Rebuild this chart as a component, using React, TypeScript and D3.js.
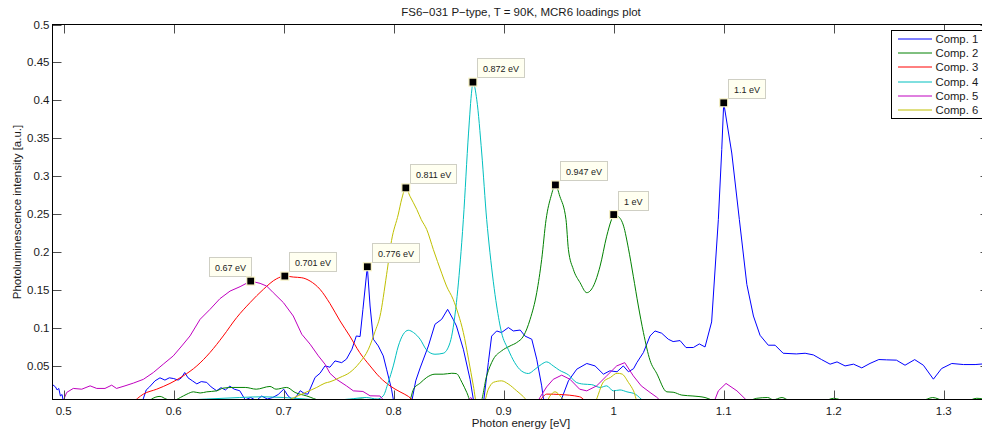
import React from 'react';
import * as d3 from 'd3';

type Pt = [number, number];

const title = 'FS6\u2212031 P\u2212type, T = 90K, MCR6 loadings plot';
const xLabel = 'Photon energy [eV]';
const yLabel = 'Photoluminescence intensity [a.u.]';

const xTicks = [0.5, 0.6, 0.7, 0.8, 0.9, 1.0, 1.1, 1.2, 1.3];
const xTickLabels = ['0.5', '0.6', '0.7', '0.8', '0.9', '1', '1.1', '1.2', '1.3'];
const yTicks = [0.05, 0.1, 0.15, 0.2, 0.25, 0.3, 0.35, 0.4, 0.45, 0.5];
const yTickLabels = ['0.05', '0.1', '0.15', '0.2', '0.25', '0.3', '0.35', '0.4', '0.45', '0.5'];

const xDomain: Pt = [0.4898, 1.3416];
const yDomain: Pt = [0.0054, 0.5];

const seriesNames = ['Comp. 1', 'Comp. 2', 'Comp. 3', 'Comp. 4', 'Comp. 5', 'Comp. 6'];
const seriesColors = ['#0000ff', '#008000', '#ff0000', '#00bfbf', '#bf00bf', '#bfbf00'];

const comp1: Pt[] = [
  [0.489, 0.026], [0.4925, 0.022], [0.494, 0.018], [0.4955, 0.02], [0.497, 0.01], [0.4985, 0.012], [0.5, 0.0], [0.51, 0],
  [0.57, 0], [0.572, 0.005], [0.575, 0.018], [0.578, 0.022], [0.583, 0.03], [0.5875, 0.034], [0.592, 0.031], [0.596, 0.034],
  [0.6, 0.033], [0.604, 0.031], [0.607, 0.034], [0.61, 0.041], [0.613, 0.034], [0.617, 0.03], [0.621, 0.026], [0.625, 0.029],
  [0.63, 0.028], [0.634, 0.022], [0.639, 0.017], [0.643, 0.021], [0.647, 0.018], [0.651, 0.023], [0.655, 0.019], [0.66, 0.017],
  [0.665, 0.005], [0.67, 0.008], [0.675, 0.004], [0.68, 0.01], [0.685, 0.006], [0.69, 0.008], [0.695, 0.012], [0.7, 0.019],
  [0.704, 0.01], [0.709, 0.004], [0.715, 0.017], [0.719, 0.013], [0.722, 0.0125], [0.7285, 0.0345], [0.733, 0.04], [0.7375, 0.0497],
  [0.742, 0.048], [0.7466, 0.0563], [0.7527, 0.054], [0.757, 0.0586], [0.762, 0.0717], [0.766, 0.0892], [0.7694, 0.0884],
  [0.772, 0.1243], [0.776, 0.1805], [0.7785, 0.1287], [0.7815, 0.0849], [0.786, 0.076], [0.7905, 0.0629], [0.7935, 0.0454],
  [0.798, 0.019], [0.8003, 0.0], [0.816, 0.0], [0.82, 0.03], [0.824, 0.047], [0.8315, 0.076], [0.8375, 0.1046], [0.8436, 0.1112],
  [0.849, 0.1243], [0.854, 0.1112], [0.857, 0.1024], [0.8633, 0.0717], [0.8694, 0.032], [0.873, 0.0], [0.8815, 0.0],
  [0.886, 0.054], [0.889, 0.089], [0.8936, 0.0958], [0.898, 0.0937], [0.9042, 0.1003], [0.9087, 0.0958], [0.915, 0.097],
  [0.9194, 0.089], [0.9255, 0.0849], [0.93, 0.0586], [0.9345, 0.0234], [0.9367, 0.0], [0.951, 0.0], [0.9588, 0.03],
  [0.9664, 0.0454], [0.9755, 0.0529], [0.983, 0.0497], [0.9906, 0.0388], [0.9965, 0.0432], [1.003, 0.042], [1.0087, 0.0497],
  [1.0133, 0.042], [1.018, 0.046], [1.021, 0.054], [1.027, 0.0674], [1.033, 0.0892], [1.0375, 0.0958], [1.0436, 0.0928],
  [1.0496, 0.0849], [1.054, 0.0818], [1.0603, 0.0831], [1.0657, 0.0739], [1.0724, 0.074], [1.0778, 0.0787], [1.083, 0.0747],
  [1.089, 0.1077], [1.0951, 0.2428], [1.0982, 0.335], [1.1, 0.3967], [1.1073, 0.3305], [1.1142, 0.2428], [1.121, 0.1572],
  [1.127, 0.1155], [1.133, 0.0901], [1.1405, 0.077], [1.1467, 0.077], [1.154, 0.0664], [1.166, 0.0655], [1.174, 0.0664],
  [1.1815, 0.0642], [1.189, 0.058], [1.1967, 0.052], [1.203, 0.055], [1.2103, 0.0497], [1.218, 0.052], [1.2255, 0.0471],
  [1.233, 0.053], [1.241, 0.0581], [1.248, 0.0577], [1.257, 0.0573], [1.2648, 0.0506], [1.2736, 0.058], [1.2815, 0.0506],
  [1.2906, 0.0322], [1.298, 0.0462], [1.3073, 0.0529], [1.318, 0.0515], [1.3285, 0.0515], [1.3416, 0.053],
];

const comp2: Pt[] = [
  [0.57, 0], [0.5754, 0], [0.58, 0.006], [0.5876, 0.0095], [0.593, 0.006], [0.5996, 0.004], [0.606, 0.008], [0.612, 0.0125],
  [0.618, 0.0155], [0.624, 0.014], [0.63, 0.0155], [0.639, 0.0168], [0.645, 0.0204], [0.654, 0.0213], [0.665, 0.0213],
  [0.675, 0.019], [0.6875, 0.0226], [0.693, 0.019], [0.7027, 0.0213], [0.7103, 0.0147], [0.721, 0.01], [0.733, 0.004],
  [0.745, 0.002], [0.76, 0.004], [0.77, 0.006], [0.78, 0.003], [0.8, 0.0], [0.8133, 0.0], [0.818, 0.019], [0.824, 0.027],
  [0.83, 0.0345], [0.8375, 0.0388], [0.845, 0.0388], [0.8527, 0.04], [0.857, 0.0395], [0.862, 0.028], [0.8664, 0.0147],
  [0.871, 0], [0.8785, 0], [0.8845, 0.0366], [0.8906, 0.0586], [0.898, 0.0695], [0.9057, 0.076], [0.9118, 0.0805],
  [0.918, 0.0892], [0.924, 0.1112], [0.93, 0.1463], [0.9345, 0.1901], [0.9385, 0.2428], [0.943, 0.2734], [0.947, 0.2884],
  [0.951, 0.2734], [0.9566, 0.2428], [0.9588, 0.2033], [0.9633, 0.177], [0.9694, 0.1595], [0.9755, 0.1463], [0.9815, 0.155],
  [0.9876, 0.1813], [0.9936, 0.2208], [0.998, 0.2428], [1.0, 0.2493], [1.004, 0.247], [1.009, 0.234], [1.0133, 0.205],
  [1.0178, 0.168], [1.0224, 0.1287], [1.027, 0.0937], [1.033, 0.057], [1.039, 0.04], [1.0483, 0.0155], [1.054, 0.015],
  [1.0619, 0.0112], [1.072, 0.01], [1.083, 0.008], [1.09, 0.004], [1.095, 0.0], [1.12, 0.002], [1.13, 0.007], [1.14, 0.008],
  [1.145, 0.005], [1.153, 0.008], [1.16, 0.004], [1.19, 0.003], [1.2, 0.007], [1.21, 0.004], [1.28, 0.004], [1.29, 0.008],
  [1.3, 0.004], [1.32, 0.003], [1.33, 0.007], [1.3416, 0.004],
];

const comp3: Pt[] = [
  [0.5618, 0], [0.5724, 0.0125], [0.5845, 0.019], [0.5966, 0.0266], [0.6087, 0.0366], [0.621, 0.0497], [0.633, 0.0674],
  [0.645, 0.0892], [0.6572, 0.1134], [0.6694, 0.1332], [0.6815, 0.1507], [0.6936, 0.1647], [0.701, 0.1682], [0.7087, 0.1669],
  [0.7164, 0.166], [0.724, 0.1616], [0.733, 0.1507], [0.742, 0.132], [0.7512, 0.109], [0.76, 0.0892], [0.769, 0.0674],
  [0.7785, 0.0497], [0.7875, 0.0345], [0.7966, 0.0234], [0.8057, 0.0155], [0.8133, 0.0095], [0.818, 0.004], [0.825, 0],
  [0.93, 0], [0.935, 0.008], [0.939, 0.0125], [0.951, 0.012], [0.969, 0.009], [0.978, 0.0], [1.3416, 0],
];

const comp4: Pt[] = [
  [0.56, 0], [0.6, 0.004], [0.63, 0.006], [0.66, 0.008], [0.68, 0.009], [0.7, 0.008], [0.72, 0.006], [0.74, 0.004],
  [0.76, 0.006], [0.775, 0.008], [0.785, 0.006], [0.7905, 0.0103], [0.795, 0.028], [0.7996, 0.0497], [0.8042, 0.076],
  [0.8087, 0.0915], [0.8133, 0.0967], [0.818, 0.0937], [0.824, 0.0849], [0.83, 0.0705], [0.8375, 0.0651], [0.845, 0.0664],
  [0.8512, 0.0805], [0.857, 0.1332], [0.8618, 0.2121], [0.8633, 0.2428], [0.868, 0.3568], [0.871, 0.4138], [0.872, 0.424],
  [0.8755, 0.4007], [0.88, 0.3305], [0.8845, 0.2428], [0.8875, 0.1989], [0.8936, 0.1287], [0.898, 0.0937], [0.904, 0.0717],
  [0.91, 0.054], [0.916, 0.0432], [0.9224, 0.0397], [0.9285, 0.0454], [0.9345, 0.052], [0.939, 0.055], [0.945, 0.0497],
  [0.9506, 0.044], [0.9588, 0.0379], [0.966, 0.028], [0.9724, 0.0257], [0.98, 0.025], [0.9876, 0.0213], [0.9936, 0.0234],
  [0.9996, 0.0168], [1.0057, 0.018], [1.012, 0.0155], [1.0196, 0.0125], [1.027, 0.004], [1.04, 0], [1.3416, 0],
];

const comp5: Pt[] = [
  [0.4985, 0], [0.5027, 0.0147], [0.5087, 0.02], [0.5164, 0.019], [0.524, 0.0234], [0.53, 0.02], [0.5375, 0.02],
  [0.5436, 0.0243], [0.548, 0.02], [0.5557, 0.0234], [0.5633, 0.027], [0.5724, 0.032], [0.5815, 0.041], [0.5905, 0.052],
  [0.5996, 0.0629], [0.6073, 0.076], [0.6148, 0.0892], [0.624, 0.1112], [0.633, 0.1243], [0.642, 0.1384], [0.6512, 0.1484],
  [0.6603, 0.1542], [0.67, 0.1616], [0.6785, 0.1586], [0.6845, 0.155], [0.6905, 0.1463], [0.6997, 0.1332], [0.7087, 0.1155],
  [0.7164, 0.0915], [0.724, 0.0783], [0.7315, 0.0629], [0.7375, 0.052], [0.742, 0.04], [0.748, 0.032], [0.757, 0.0234],
  [0.7633, 0.0168], [0.772, 0.016], [0.7785, 0.0103], [0.7875, 0.01], [0.7935, 0.0], [0.865, 0], [0.87, 0.008], [0.875, 0.0],
  [0.93, 0], [0.9329, 0.008], [0.939, 0.022], [0.945, 0.032], [0.9527, 0.0375], [0.9603, 0.032], [0.969, 0.019],
  [0.9755, 0.0168], [0.9845, 0.0234], [0.9936, 0.0366], [1.0027, 0.0497], [1.01, 0.054], [1.0178, 0.0366], [1.025, 0.0234],
  [1.033, 0.0147], [1.039, 0.0085], [1.045, 0], [1.0906, 0], [1.0951, 0.0168], [1.1021, 0.0266], [1.112, 0.0168],
  [1.1239, 0], [1.3416, 0],
];

const comp6: Pt[] = [
  [0.56, 0], [0.6, 0.003], [0.64, 0.005], [0.68, 0.004], [0.7, 0.003], [0.7087, 0.0075], [0.721, 0.0155], [0.73, 0.0213],
  [0.7375, 0.027], [0.742, 0.0287], [0.7512, 0.0345], [0.76, 0.041], [0.769, 0.054], [0.777, 0.0717], [0.783, 0.095],
  [0.7875, 0.115], [0.7935, 0.17], [0.798, 0.215], [0.8042, 0.25], [0.8073, 0.27], [0.811, 0.2845], [0.8148, 0.2734],
  [0.821, 0.256], [0.825, 0.2428], [0.83, 0.2296], [0.836, 0.2033], [0.8436, 0.172], [0.848, 0.155], [0.854, 0.1375],
  [0.8587, 0.118], [0.8633, 0.0937], [0.868, 0.0586], [0.8724, 0.0234], [0.8755, 0], [0.8815, 0], [0.886, 0.019],
  [0.8906, 0.028], [0.898, 0.03], [0.904, 0.026], [0.9118, 0.0168], [0.918, 0.009], [0.924, 0], [0.938, 0], [0.942, 0.01],
  [0.9466, 0.0155], [0.954, 0.006], [0.96, 0], [0.9815, 0], [0.9906, 0.0287], [0.997, 0.0345], [1.003, 0.04],
  [1.0075, 0.039], [1.0133, 0.028], [1.018, 0.0168], [1.0224, 0], [1.3416, 0],
];

const allSeries = [comp1, comp2, comp3, comp4, comp5, comp6];
const seriesJagged = [true, false, false, false, true, false];

// Data tips (peak markers)
const tipEnergies = [0.67, 0.701, 0.776, 0.811, 0.872, 0.947, 1.0, 1.1];
const tipValues = [0.1616, 0.1682, 0.1805, 0.2845, 0.424, 0.2884, 0.2493, 0.3967];
const tipLabels = ['0.67 eV', '0.701 eV', '0.776 eV', '0.811 eV', '0.872 eV', '0.947 eV', '1 eV', '1.1 eV'];
const tipLeftSide = [true, false, false, false, false, false, false, false];

const FONT = "'Liberation Sans', Arial, Helvetica, sans-serif";

function measure(text: string, size: number): number {
  if (typeof document === 'undefined') return text.length * size * 0.55;
  const c = document.createElement('canvas').getContext('2d');
  if (!c) return text.length * size * 0.55;
  c.font = `${size}px 'Liberation Sans', Arial`;
  return c.measureText(text).width;
}

export default function App() {
  const W = 982;
  const H = 434;
  const L = 52.5, R = 989.5, T = 24.5, B = 399.5;

  const x = d3.scaleLinear().domain(xDomain).range([L, R]);
  const y = d3.scaleLinear().domain(yDomain).range([B, T]);

  const smooth = d3
    .line<Pt>()
    .x((d) => x(d[0]))
    .y((d) => y(d[1]))
    .curve(d3.curveMonotoneX);
  const jagged = d3
    .line<Pt>()
    .x((d) => x(d[0]))
    .y((d) => y(d[1]))
    .curve(d3.curveLinear);

  const tickLen = 9;
  const tickColor = '#4d4d4d';

  const legendX = 891.5, legendY = 30.5, legendW = 110, legendH = 88;
  const legendRow0 = 39, legendRowStep = 14.2;

  return (
    <div style={{ position: 'fixed', left: 0, top: 0, width: W, height: H, overflow: 'hidden', background: '#fff' }}>
      <svg width={W} height={H} style={{ display: 'block', fontFamily: FONT }}>
        <defs>
          <clipPath id="plotclip">
            <rect x={L} y={T} width={R - L} height={B - T} />
          </clipPath>
        </defs>
        <rect x={0} y={0} width={W} height={H} fill="#fff" />

        {/* series */}
        <g clipPath="url(#plotclip)">
          {allSeries.map((s, i) => (
            <path
              key={i}
              d={(seriesJagged[i] ? jagged(s) : smooth(s)) || ''}
              fill="none"
              stroke={seriesColors[i]}
              strokeWidth={1}
              strokeLinejoin="round"
            />
          ))}
        </g>

        {/* ticks */}
        <g stroke={tickColor} strokeWidth={1}>
          {xTicks.map((t, i) => {
            const px = Math.round(x(t)) + 0.5;
            return (
              <g key={'xt' + i}>
                <line x1={px} x2={px} y1={B} y2={B - tickLen} />
                <line x1={px} x2={px} y1={T} y2={T + tickLen} />
              </g>
            );
          })}
          {yTicks.map((t, i) => {
            const py = Math.round(y(t)) + 0.5;
            return (
              <g key={'yt' + i}>
                <line x1={L} x2={L + tickLen} y1={py} y2={py} />
                <line x1={R} x2={R - tickLen} y1={py} y2={py} />
              </g>
            );
          })}
        </g>

        {/* axes box */}
        <rect x={L} y={T} width={R - L} height={B - T} fill="none" stroke="#000" strokeWidth={1} />

        {/* tick labels */}
        <g fontSize={11.5} fill="#1a1a1a">
          {xTicks.map((t, i) => (
            <text key={'xl' + i} x={x(t)} y={414.5} textAnchor="middle">
              {xTickLabels[i]}
            </text>
          ))}
          {yTicks.map((t, i) => (
            <text key={'yl' + i} x={49.5} y={y(t) + 4} textAnchor="end">
              {yTickLabels[i]}
            </text>
          ))}
        </g>

        {/* title and axis labels */}
        <text x={(L + R) / 2} y={16} textAnchor="middle" fontSize={11.5} fill="#1a1a1a">
          {title}
        </text>
        <text x={(L + R) / 2} y={427} textAnchor="middle" fontSize={11.5} fill="#1a1a1a">
          {xLabel}
        </text>
        <text
          transform={`translate(20.5, ${(T + B) / 2}) rotate(-90)`}
          textAnchor="middle"
          fontSize={11.5}
          fill="#1a1a1a"
        >
          {yLabel}
        </text>

        {/* data tips */}
        {tipEnergies.map((e, i) => {
          const mx = x(e);
          const my = y(tipValues[i]);
          const tw = measure(tipLabels[i], 9);
          const bw = Math.round(tw + 11);
          const bh = 19;
          const bx = tipLeftSide[i] ? mx - bw : mx + 4.5;
          const by = my - 5 - bh;
          return (
            <g key={'tip' + i}>
              <rect x={Math.round(bx) + 0.5} y={Math.round(by) + 0.5} width={bw} height={bh} fill="#fffff0" stroke="#cfcfc4" strokeWidth={1} />
              <text x={Math.round(bx) + 6} y={Math.round(by) + 13.5} fontSize={9} fill="#222">
                {tipLabels[i]}
              </text>
              <rect x={mx - 4} y={my - 4} width={8} height={8} fill="#000" stroke="#fbf6c8" strokeWidth={1.2} />
            </g>
          );
        })}

        {/* legend */}
        <rect x={legendX} y={legendY} width={legendW} height={legendH} fill="#fff" stroke="#000" strokeWidth={1} />
        {seriesNames.map((n, i) => {
          const ry = Math.round(legendRow0 + i * legendRowStep);
          return (
            <g key={'lg' + i}>
              <line x1={898} x2={932} y1={ry} y2={ry} stroke={seriesColors[i]} strokeWidth={1} />
              <text x={935.5} y={ry + 4} fontSize={11.3} fill="#1a1a1a">
                {n}
              </text>
            </g>
          );
        })}
      </svg>
    </div>
  );
}
